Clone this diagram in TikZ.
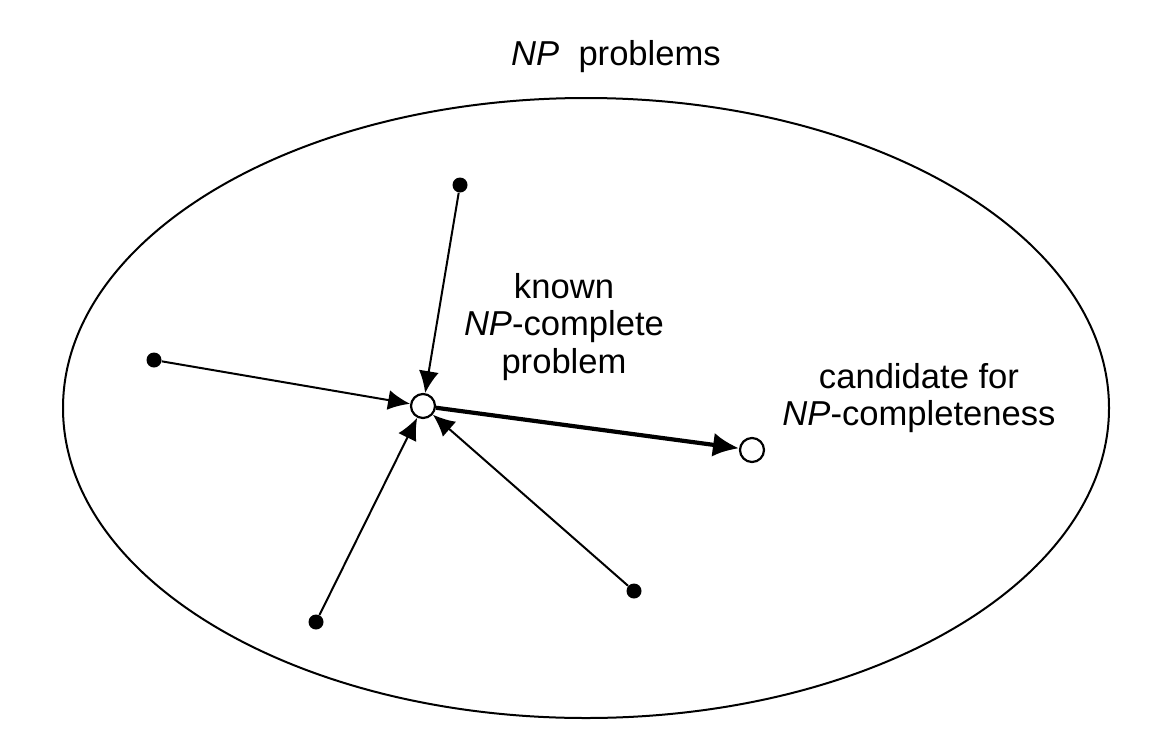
\documentclass[tikz,border=0pt]{standalone}
\usepackage{fontspec}
\setmainfont{Liberation Sans}
\usetikzlibrary{arrows.meta}
\begin{document}
\begin{tikzpicture}[x=0.5pt,y=-0.5pt,
  lbl/.style={font=\fontsize{17.3}{18.8}\selectfont, inner sep=0pt, align=center},
  dot/.style={circle, fill=black, inner sep=0pt, minimum size=7.5pt},
  open/.style={circle, draw=black, line width=1.1pt, fill=white, inner sep=0pt, minimum size=12pt},
  red/.style={line width=1pt, -{Latex[length=11pt,width=10pt]}},
  main/.style={line width=2.1pt, -{Latex[length=13pt,width=12pt]}}]
\useasboundingbox (0,0) rectangle (1172,750);
\draw[line width=1pt] (586,408) ellipse [x radius=523, y radius=310];
\node[lbl, anchor=base] (title) at (616,65) {\textit{NP}\ \ problems};
\node[open] (k) at (423,406) {};
\node[open] (c) at (752,450) {};
\node[dot] (d1) at (460,185) {};
\node[dot] (d2) at (154,360) {};
\node[dot] (d3) at (316,622) {};
\node[dot] (d4) at (634,591) {};
\node[lbl] (kt) at (564,327) {known\\\textit{NP}-complete\\problem};
\node[lbl] (ct) at (919,398) {candidate for\\\textit{NP}-completeness};
\draw[red] (d1) -- (k);
\draw[red] (d2) -- (k);
\draw[red] (d3) -- (k);
\draw[red] (d4) -- (k);
\draw[main] (k) -- (c);
\end{tikzpicture}
\end{document}
